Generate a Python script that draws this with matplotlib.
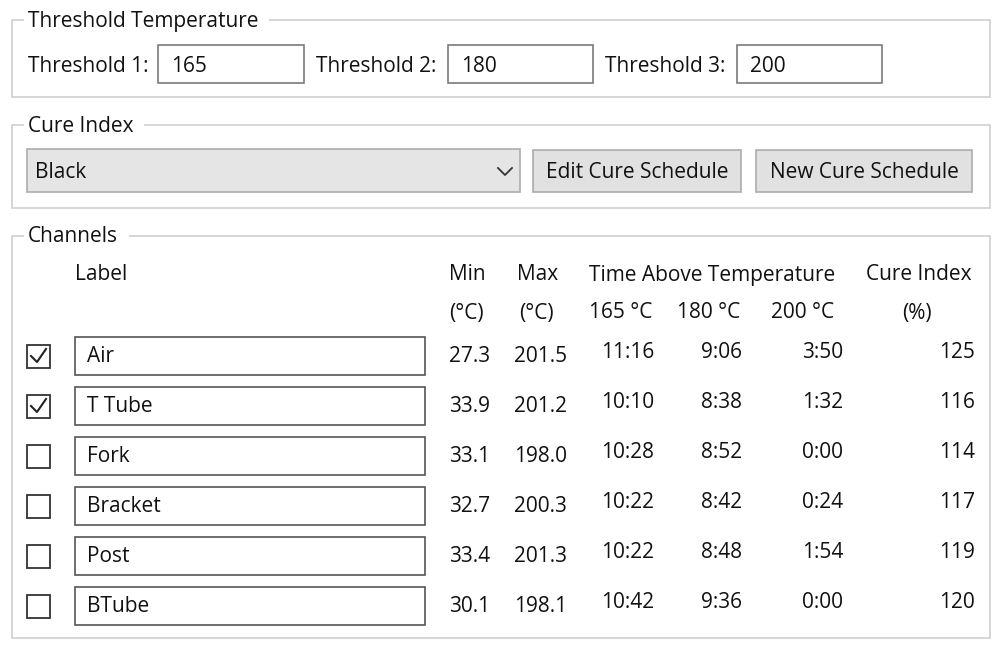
import matplotlib
matplotlib.use("Agg")
import matplotlib.pyplot as plt
from matplotlib.patches import Rectangle

thresholds = ["165", "180", "200"]
cure_choice = "Black"
labels = ["Air", "T Tube", "Fork", "Bracket", "Post", "BTube"]
checked = [True, True, False, False, False, False]
mins = [27.3, 33.9, 33.1, 32.7, 33.4, 30.1]
maxs = [201.5, 201.2, 198.0, 200.3, 201.3, 198.1]
t165 = ["11:16", "10:10", "10:28", "10:22", "10:22", "10:42"]
t180 = ["9:06", "8:38", "8:52", "8:42", "8:48", "9:36"]
t200 = ["3:50", "1:32", "0:00", "0:24", "1:54", "0:00"]
cure_idx = [125, 116, 114, 117, 119, 120]

fig = plt.figure(figsize=(10, 6.57), dpi=100)
ax = fig.add_axes([0, 0, 1, 1])
ax.set_xlim(0, 1000); ax.set_ylim(657, 0); ax.axis("off")
fig.patch.set_facecolor("white")
FS = 15
FONT = "Open Sans"
def txt(x, y, s, ha="left", **kw):
    ax.text(x, y + 2, s, ha=ha, va="center", fontsize=FS, family=FONT, color="#111", **kw)
def box(x0, y0, x1, y1, ec="#7a7a7a", fc="white", lw=1.2):
    ax.add_patch(Rectangle((x0, y0), x1-x0, y1-y0, ec=ec, fc=fc, lw=lw))
def group(y0, y1, title, tw):
    box(12, y0, 990, y1, ec="#d0d0d0", fc="none")
    ax.add_patch(Rectangle((24, y0-3), tw, 6, ec="none", fc="white"))
    txt(28, y0 - 1, title)

group(20, 97, "Threshold Temperature", 245)
for lx, lab, bx0, bx1, v in [(28, "Threshold 1:", 158, 304, thresholds[0]),
                             (316, "Threshold 2:", 448, 593, thresholds[1]),
                             (605, "Threshold 3:", 737, 882, thresholds[2])]:
    txt(lx, 64, lab)
    box(bx0, 45, bx1, 83)
    txt(bx0 + 13, 64, v)

group(125, 208, "Cure Index", 120)
box(27, 149, 520, 192, ec="#adadad", fc="#e5e5e5")
txt(35, 170, cure_choice)
ax.plot([498, 505, 512], [168, 175, 168], color="#333", lw=1.3)
for x0, x1, s in [(533, 741, "Edit Cure Schedule"), (756, 972, "New Cure Schedule")]:
    box(x0, 150, x1, 192, ec="#adadad", fc="#e1e1e1")
    txt((x0 + x1) / 2, 171, s, ha="center")

group(236, 638, "Channels", 105)
txt(75, 273, "Label"); txt(449, 273, "Min"); txt(517, 273, "Max")
txt(589, 273, "Time Above Temperature"); txt(866, 273, "Cure Index")
txt(449, 311, "(°C)"); txt(519, 311, "(°C)")
txt(589, 311, "165 °C"); txt(677, 311, "180 °C"); txt(771, 311, "200 °C"); txt(902, 311, "(%)")
for i, lab in enumerate(labels):
    y = 356 + 50 * i
    box(27, y - 11, 50, y + 12, ec="#333", lw=1.3)
    if checked[i]:
        ax.plot([31, 37, 46], [y, y + 6, y - 7], color="#222", lw=1.5)
    box(75, y - 19, 425, y + 19, ec="#555")
    txt(87, y - 1, lab)
    txt(449, y - 1, f"{mins[i]:.1f}")
    txt(514, y - 1, f"{maxs[i]:.1f}")
    txt(654, y - 5, t165[i], ha="right")
    txt(742, y - 5, t180[i], ha="right")
    txt(843, y - 5, t200[i], ha="right")
    txt(975, y - 5, str(cure_idx[i]), ha="right")

fig.savefig("out.png", dpi=100)
